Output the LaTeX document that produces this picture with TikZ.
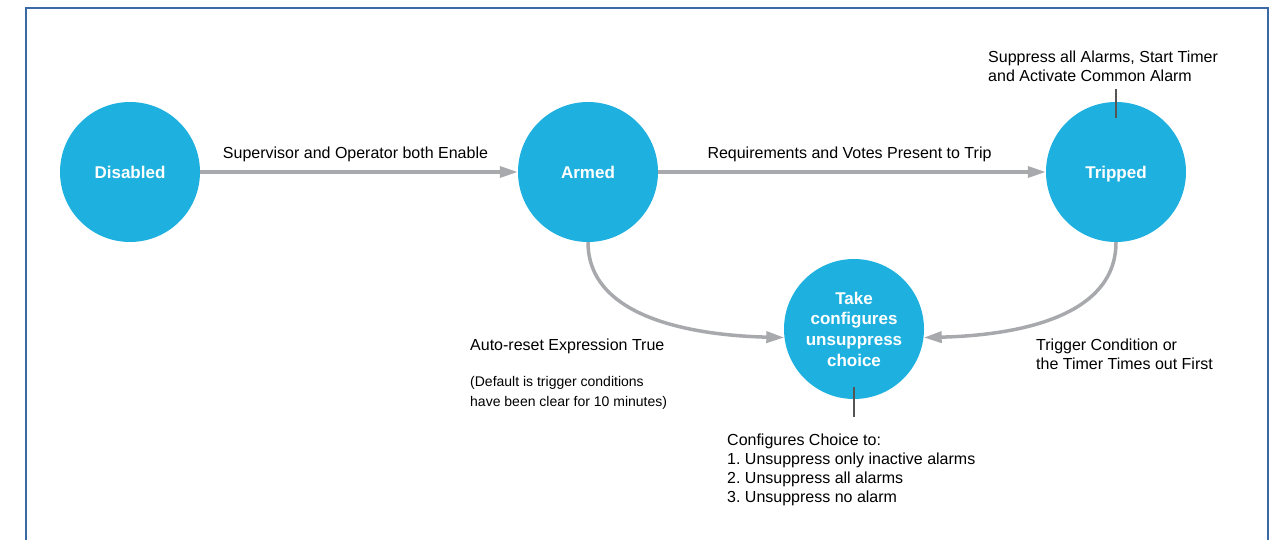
\documentclass[tikz,border=0pt]{standalone}
\usepackage{fontspec}
\setmainfont{Liberation Sans}
\frenchspacing
\usetikzlibrary{arrows.meta}
\definecolor{stblue}{HTML}{1EB1DF}
\definecolor{arrgray}{HTML}{A8A9AD}
\definecolor{frameblue}{HTML}{3B69A6}
\definecolor{leadgray}{HTML}{555555}
\tikzset{
  state/.style={circle, fill=stblue, minimum size=140pt, inner sep=0pt, text=white,
    font={\fontsize{17}{20.7}\selectfont\bfseries}, align=center},
  oneline/.style={text height=12.2pt, text depth=0pt},
  trans/.style={draw=arrgray, line width=3.5pt, -{Triangle[length=18pt,width=11pt]}},
  lbl/.style={inner sep=0pt, font={\fontsize{16}{19}\selectfont}, text=black, align=left},
  smalllbl/.style={inner sep=0pt, font={\fontsize{14}{20}\selectfont}, text=black, align=left},
  leader/.style={draw=leadgray, line width=1.3pt},
}
\begin{document}
\begin{tikzpicture}[x=1pt,y=-1pt]
\useasboundingbox (0,0) rectangle (1283,540);
\clip (0,0) rectangle (1283,540);
\draw[frameblue, line width=1.5pt] (26,560) -- (26,8) -- (1268,8) -- (1268,560);

\node[state, oneline] (dis) at (130,172) {Disabled};
\node[state, oneline] (arm) at (588,172) {Armed};
\node[state, oneline] (trip) at (1116,172) {Tripped};
\node[state] (take) at (854,329) {Take\\configures\\unsuppress\\choice};

\draw[trans] (dis) -- (arm);
\draw[trans] (arm) -- (trip);
\draw[trans] (arm.south) .. controls +(0,78) and +(-85,-2) .. (take.187);
\draw[trans] (trip.south) .. controls +(0,78) and +(85,-2) .. (take.-7);

\node[lbl, anchor=base] (l1) at (355.5,159) {Supervisor and Operator both Enable};
\node[lbl, anchor=base] (l2) at (849.5,159) {Requirements and Votes Present to Trip};
\node[lbl, anchor=base west] (l3) at (988,81.5) {Suppress all Alarms, Start Timer\\and Activate Common Alarm};
\node[lbl, anchor=base west] (l4) at (470,350) {Auto-reset Expression True};
\node[smalllbl, anchor=base west] (l5) at (470,406) {(Default is trigger conditions\\have been clear for 10 minutes)};
\node[lbl, anchor=base west] (l6) at (1036,369.5) {Trigger Condition or\\the Timer Times out First};
\node[lbl, anchor=base west] (l7) at (727,502) {Configures Choice to:\\1. Unsuppress only inactive alarms\\2. Unsuppress all alarms\\3. Unsuppress no alarm};

\coordinate (c1) at (1116,89);
\coordinate (c2) at (1116,118);
\draw[leader] (c1) -- (c2);
\coordinate (c3) at (854,387);
\coordinate (c4) at (854,417);
\draw[leader] (c3) -- (c4);
\end{tikzpicture}
\end{document}
